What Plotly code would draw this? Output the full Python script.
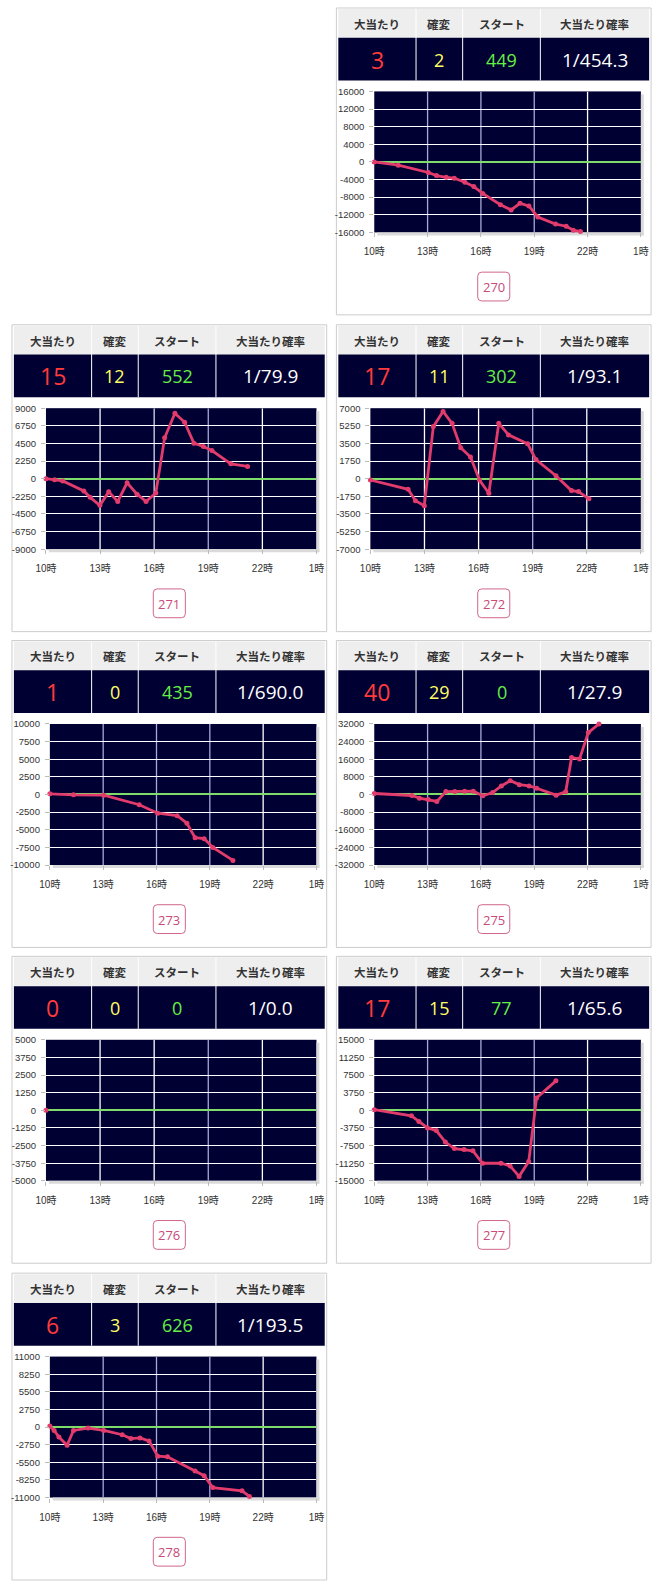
import plotly.graph_objects as go

# ---------------- data ----------------
PANEL_IDS = ["270", "271", "272", "273", "275", "276", "277", "278"]
HITS = ["3", "15", "17", "1", "40", "0", "17", "6"]
KAKUHEN = ["2", "12", "11", "0", "29", "0", "15", "3"]
START = ["449", "552", "302", "435", "0", "0", "77", "626"]
PROB = ["1/454.3", "1/79.9", "1/93.1", "1/690.0", "1/27.9", "1/0.0", "1/65.6", "1/193.5"]
HEADERS = ["大当たり", "確変", "スタート", "大当たり確率"]
Y_LIMIT = [16000, 9000, 7000, 10000, 32000, 5000, 15000, 11000]
X_TICK_VALS = [10, 13, 16, 19, 22, 25]
X_TICK_TEXT = ["10時", "13時", "16時", "19時", "22時", "1時"]

hours_270 = [10.0, 11.35, 13.04, 13.5, 14.05, 14.5, 15.1, 15.6, 16.1, 17.1, 17.7, 18.2, 18.7, 19.2, 20.2, 20.8, 21.2, 21.6]
diff_270 = [0, -750, -2400, -3100, -3500, -3700, -4600, -5600, -7150, -9700, -10900, -9400, -10000, -12500, -14100, -14600, -15500, -15800]

hours_271 = [10.0, 10.48, 10.93, 12.1, 12.45, 12.99, 13.48, 13.98, 14.5, 15.05, 15.55, 16.09, 16.58, 17.15, 17.69, 18.2, 18.73, 19.2, 20.25, 21.18]
diff_271 = [0, -120, -290, -1560, -2380, -3400, -1680, -2910, -530, -1970, -2910, -1840, 5220, 8350, 7200, 4540, 4120, 3600, 1900, 1570]

hours_272 = [10.0, 12.09, 12.5, 12.99, 13.49, 14.03, 14.53, 15.01, 15.55, 16.05, 16.57, 17.12, 17.66, 18.72, 19.18, 20.29, 21.15, 21.54, 22.12]
diff_272 = [-130, -1050, -2190, -2680, 5170, 6670, 5500, 3080, 2160, -130, -1440, 5500, 4350, 3470, 1900, 290, -1180, -1280, -2000]

hours_273 = [10.0, 11.33, 13.03, 15.03, 16.07, 17.16, 17.71, 18.17, 18.68, 19.17, 20.3]
diff_273 = [100, -50, -100, -1450, -2660, -3000, -4070, -6120, -6260, -7520, -9350]

hours_275 = [10.0, 12.12, 12.54, 13.03, 13.52, 14.03, 14.53, 15.08, 15.57, 16.11, 16.66, 17.15, 17.65, 18.16, 18.71, 19.14, 20.23, 20.77, 21.1, 21.55, 22.04, 22.64]
diff_275 = [450, -450, -1650, -2240, -3140, 1350, 1350, 1500, 1500, -600, 900, 3890, 6280, 4480, 3890, 2840, -300, 1200, 16740, 16140, 28100, 32000]

hours_276 = [10.0]
diff_276 = [0]

hours_277 = [10.0, 12.09, 12.51, 13.0, 13.49, 14.0, 14.51, 15.05, 15.55, 16.09, 17.13, 17.64, 18.15, 18.69, 19.13, 20.22]
diff_277 = [140, -1180, -2370, -3760, -4310, -6750, -8140, -8350, -8630, -11270, -11270, -11830, -14060, -10920, 2640, 6260]

hours_278 = [10.0, 10.24, 10.51, 10.97, 11.33, 12.15, 13.03, 14.07, 14.56, 15.07, 15.58, 16.07, 16.62, 18.17, 18.68, 19.17, 20.81, 21.23]
diff_278 = [150, -520, -1550, -2840, -520, -150, -520, -1190, -1800, -1700, -2160, -4540, -4640, -6860, -7580, -9440, -9950, -10820]

HOURS = [hours_270, hours_271, hours_272, hours_273, hours_275, hours_276, hours_277, hours_278]
DIFFS = [diff_270, diff_271, diff_272, diff_273, diff_275, diff_276, diff_277, diff_278]

# ---------------- layout / style ----------------
W, H = 662, 1587
SLOTS = [(1, 0), (0, 1), (1, 1), (0, 2), (1, 2), (0, 3), (1, 3), (0, 4)]
PANEL_LEFT = [1, 335]
PANEL_TOP = [2, 321, 639, 957, 1276]
LAV = "#a9a9d6"
WH = "#ffffff"
VGRID_COLORS = [
    [LAV, LAV, LAV, WH],
    [WH, "#d8d8f0", LAV, WH],
    [WH, WH, LAV, WH],
    [LAV, LAV, LAV, WH],
    [LAV, LAV, LAV, WH],
    [WH, WH, LAV, WH],
    [LAV, LAV, LAV, WH],
    [LAV, LAV, LAV, WH],
]

NAVY = "#000033"
LINE_COLOR = "#e23c6c"
CJK = "Noto Sans CJK JP"
NUMFONT = "Open Sans, Noto Sans CJK JP"
TICKFONT = "Liberation Sans, Noto Sans CJK JP"


def px(x):
    return x / W


def py(y):
    return 1 - y / H


shapes = []
annotations = []
fig = go.Figure()


def rect(x0, y0, x1, y1, fill=None, line=None, lw=1, layer="below"):
    shapes.append(dict(type="rect", xref="paper", yref="paper",
                       x0=px(x0), x1=px(x1), y0=py(y1), y1=py(y0),
                       fillcolor=fill if fill else "rgba(0,0,0,0)",
                       line=dict(color=line if line else "rgba(0,0,0,0)", width=lw if line else 0),
                       layer=layer))


def vline(x, y0, y1, color, lw=1):
    shapes.append(dict(type="line", xref="paper", yref="paper",
                       x0=px(x), x1=px(x), y0=py(y0), y1=py(y1),
                       line=dict(color=color, width=lw), layer="below"))


def text(x, y, s, size, color, family, bold=False):
    annotations.append(dict(x=px(x), y=py(y), xref="paper", yref="paper",
                            text=("<b>%s</b>" % s) if bold else s, showarrow=False,
                            xanchor="center", yanchor="middle",
                            font=dict(size=size, color=color, family=family)))


def round_rect(x0, y0, x1, y1, r, color):
    def P(x, y):
        return "%f,%f" % (px(x), py(y))
    path = ("M " + P(x0 + r, y0) + " L " + P(x1 - r, y0) + " Q " + P(x1, y0) + " " + P(x1, y0 + r) +
            " L " + P(x1, y1 - r) + " Q " + P(x1, y1) + " " + P(x1 - r, y1) +
            " L " + P(x0 + r, y1) + " Q " + P(x0, y1) + " " + P(x0, y1 - r) +
            " L " + P(x0, y0 + r) + " Q " + P(x0, y0) + " " + P(x0 + r, y0) + " Z")
    shapes.append(dict(type="path", xref="paper", yref="paper", path=path,
                       line=dict(color=color, width=1), fillcolor="white", layer="below"))


layout_axes = {}
for i, pid in enumerate(PANEL_IDS):
    col, row = SLOTS[i]
    L = PANEL_LEFT[col]
    T = PANEL_TOP[row]
    R = Y_LIMIT[i]

    rect(L, T, L + 324, T + 309, line="#cccccc")
    cx = [L + 2, L + 82, L + 130, L + 210, L + 322]
    rect(L + 2, T + 1, L + 322, T + 30, fill="#eeeeee")
    rect(L + 2, T + 30, L + 322, T + 73, fill=NAVY)
    for d in cx[1:4]:
        vline(d, T + 1, T + 73, "#ffffff")
    for k in range(4):
        text((cx[k] + cx[k + 1]) / 2, T + 16, HEADERS[k], 11.5, "#333333", CJK, bold=True)
    vals = [HITS[i], KAKUHEN[i], START[i], PROB[i]]
    colors = ["#ff3b3b", "#ffff66", "#66ee44", "#ffffff"]
    sizes = [23, 18, 18, 19]
    for k in range(4):
        text((cx[k] + cx[k + 1]) / 2, T + 52, vals[k], sizes[k], colors[k], NUMFONT)

    left_off = 39 if len(str(-R)) == 6 else 35
    pl = L + left_off
    pr = L + 313.5
    pt = T + 84
    pb = T + 226
    rect(pr, pt + 3, pr + 3, pb + 3, fill="#dadada")
    rect(pl + 3, pb, pr + 3, pb + 3, fill="#dadada")

    bcx = L + 162
    round_rect(bcx - 16.5, T + 266, bcx + 16.5, T + 295, 4, "#d0668e")
    text(bcx, T + 281, pid, 13, "#c84a78", NUMFONT)

    n = "" if i == 0 else str(i + 1)
    xa = "x" + n
    ya = "y" + n
    step = R / 4
    yt = [int(-R + step * k) for k in range(9)]
    layout_axes["xaxis" + n] = dict(
        domain=[px(pl), px(pr)], anchor=ya, range=[10, 25], showgrid=False, zeroline=False,
        tickvals=X_TICK_VALS, ticktext=X_TICK_TEXT, ticks="outside", ticklen=4,
        tickcolor="#bbbbbb", ticklabelstandoff=6,
        tickfont=dict(size=10, color="#333333", family=TICKFONT), fixedrange=True)
    layout_axes["yaxis" + n] = dict(
        domain=[py(pb), py(pt)], anchor=xa, range=[-R, R], showgrid=True, gridcolor="#ffffff",
        gridwidth=1, zeroline=True, zerolinecolor="#7ddc6a", zerolinewidth=1.5,
        tickvals=yt, ticktext=[str(v) for v in yt], ticks="outside", ticklen=4,
        tickcolor="#bbbbbb", ticklabelstandoff=3,
        tickfont=dict(size=9.5, color="#333333", family=TICKFONT), fixedrange=True)

    for k, hx in enumerate([13, 16, 19, 22]):
        shapes.append(dict(type="line", xref=xa, yref=ya, x0=hx, x1=hx, y0=-R, y1=R,
                           line=dict(color=VGRID_COLORS[i][k], width=1.3), layer="below"))

    fig.add_trace(go.Scatter(
        x=HOURS[i], y=DIFFS[i], xaxis=xa, yaxis=ya, mode="lines+markers",
        line=dict(color=LINE_COLOR, width=2.8), marker=dict(color=LINE_COLOR, size=5),
        cliponaxis=False, showlegend=False, hoverinfo="skip"))

fig.update_layout(
    width=W, height=H, margin=dict(l=0, r=0, t=0, b=0), paper_bgcolor="white",
    plot_bgcolor=NAVY, showlegend=False, shapes=shapes, annotations=annotations,
    **layout_axes)

fig.write_html("out.html")
